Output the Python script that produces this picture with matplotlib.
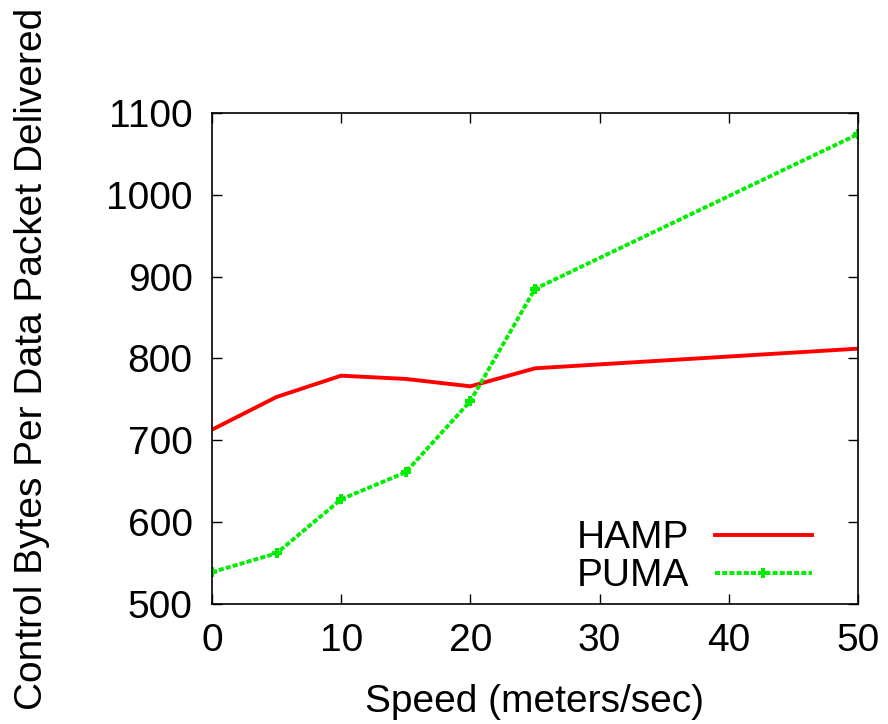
import matplotlib
matplotlib.use("Agg")
import matplotlib.pyplot as plt

# speed (m/s) vs control bytes per delivered data packet
speed = [0, 5, 10, 15, 20, 25, 50]
hamp = [713, 753, 779, 775, 766, 788, 812]
puma = [539, 562, 628, 661, 748, 885, 1074]

plt.rcParams["font.family"] = ["Liberation Sans", "DejaVu Sans"]
plt.rcParams["font.size"] = 28

fig = plt.figure(figsize=(8.88, 7.24), dpi=100)
ax = fig.add_axes([0.2387, 0.1657, 0.7275, 0.6783])

ax.plot(speed, hamp, color="#ff0000", lw=2.8, label="HAMP")
ax.plot(speed, puma, color="#00ee00", lw=2.8, dashes=(1.3, 0.55),
        marker="P", markersize=7, markeredgewidth=0, label="PUMA")

ax.set_xlim(0, 50)
ax.set_ylim(500, 1100)
ax.set_xticks([0, 10, 20, 30, 40, 50])
ax.set_yticks(range(500, 1101, 100))

ax.tick_params(direction="in", top=True, right=True, length=7, width=1,
               pad=14, labelsize=28)
for s in ax.spines.values():
    s.set_linewidth(1.2)

ax.set_xlabel("Speed (meters/sec)", labelpad=18)
ax.set_ylabel("Control Bytes Per Data Packet Delivered", labelpad=40)

ax.legend(loc="lower right", frameon=False, markerfirst=False,
          handlelength=2.5, handletextpad=0.65, labelspacing=0.05,
          borderaxespad=0.0, fontsize=28, bbox_to_anchor=(0.953, -0.012))

fig.savefig("out.png", dpi=100)
